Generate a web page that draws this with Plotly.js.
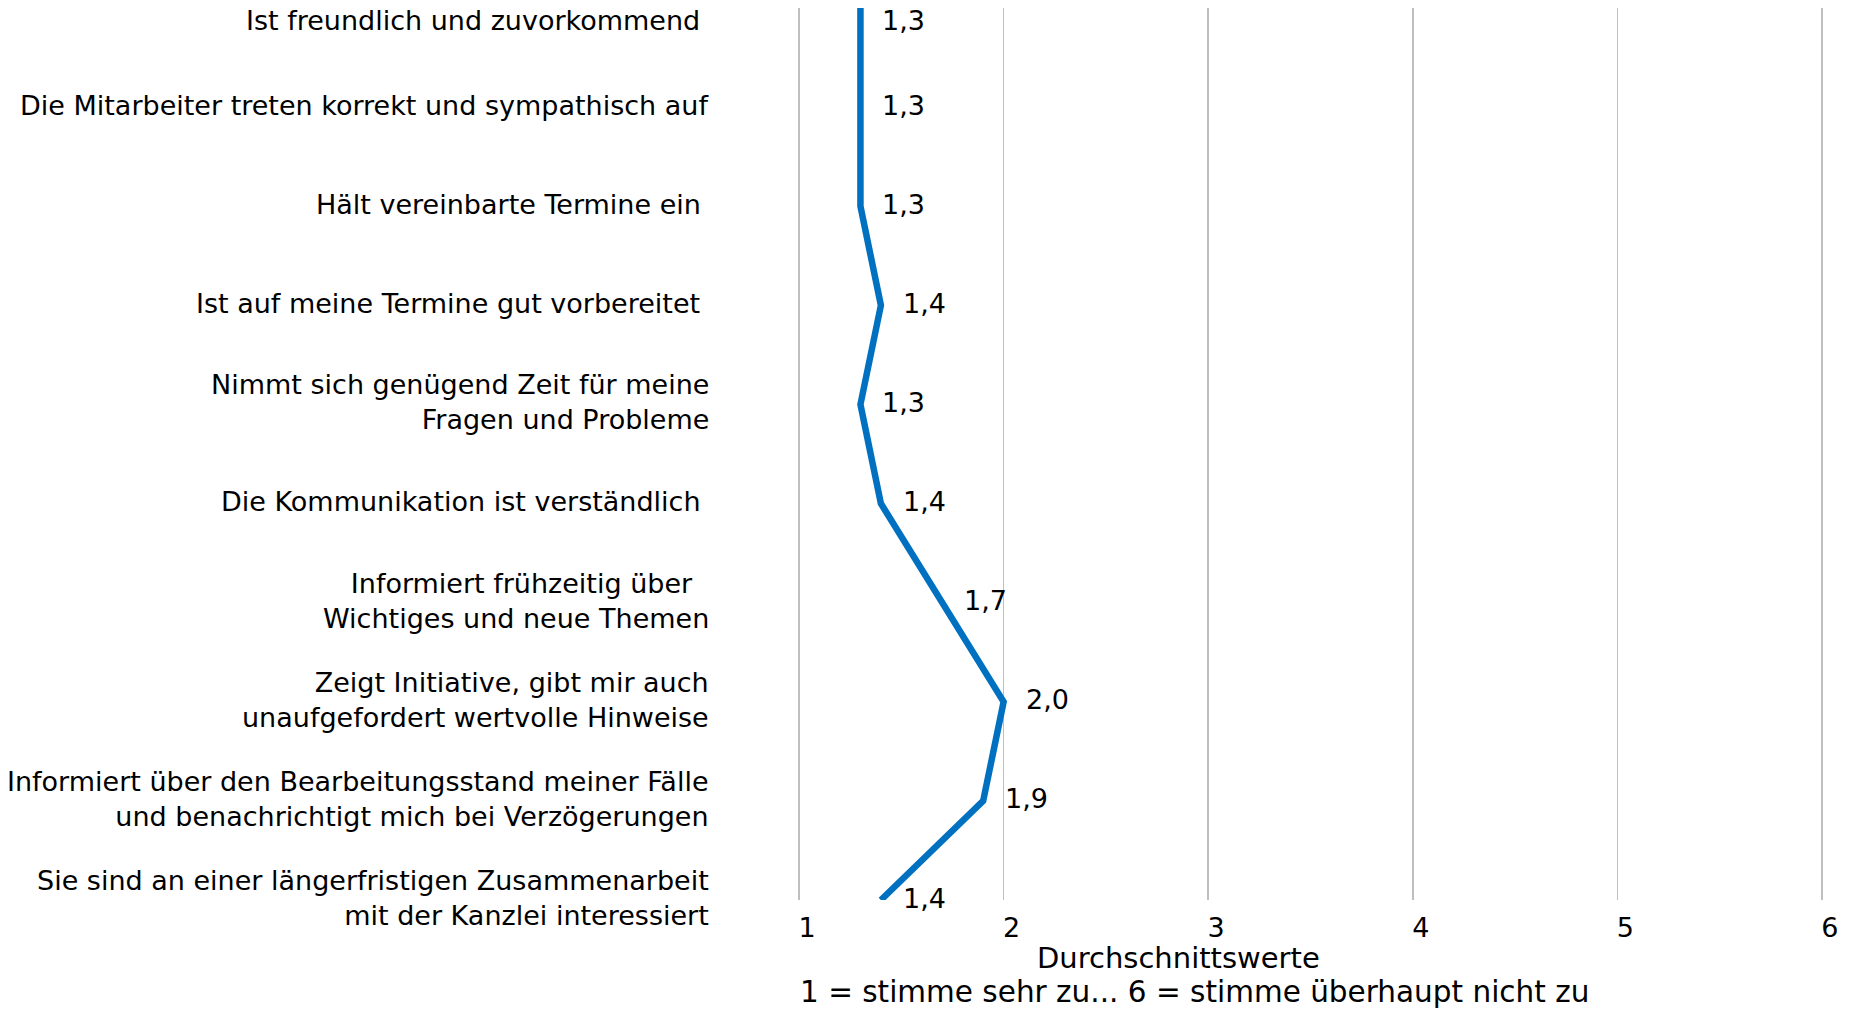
<!DOCTYPE html>
<html>
<head>
<meta charset="utf-8">
<script src="https://cdn.plot.ly/plotly-3.0.1.min.js"></script>
<style>
  html, body { margin: 0; padding: 0; background: #ffffff; }
  #chart { width: 1849px; height: 1012px; }
</style>
</head>
<body>
<div id="chart"></div>
<script>
// ---- Data ----
const categories = [
  "Ist freundlich und zuvorkommend\u00a0",
  "Die Mitarbeiter treten korrekt und sympathisch auf",
  "Hält vereinbarte Termine ein\u00a0",
  "Ist auf meine Termine gut vorbereitet\u00a0",
  "Nimmt sich genügend Zeit für meine<br>Fragen und Probleme",
  "Die Kommunikation ist verständlich\u00a0",
  "Informiert frühzeitig über\u00a0\u00a0<br>Wichtiges und neue Themen",
  "Zeigt Initiative, gibt mir auch<br>unaufgefordert wertvolle Hinweise",
  "Informiert über den Bearbeitungsstand meiner Fälle<br>und benachrichtigt mich bei Verzögerungen",
  "Sie sind an einer längerfristigen Zusammenarbeit<br>mit der Kanzlei interessiert"
];
const averages = [1.3, 1.3, 1.3, 1.4, 1.3, 1.4, 1.7, 2.0, 1.9, 1.4];
const xTicks = [1, 2, 3, 4, 5, 6];
const xAxisTitle = "Durchschnittswerte";
const scaleNote = "1 = stimme sehr zu... 6 = stimme überhaupt nicht zu";

// ---- Styling ----
const FONT = "DejaVu Sans, Verdana, sans-serif";
const FS = 27;
const BASE_NUDGE = 2;        // small optical centring of labels
const TOP_ROW_NUDGE = -12;   // first row's labels sit a bit lower to stay inside the chart
const fmt = v => v.toFixed(1).replace('.', ',');
const nudge = i => (i === 0 ? TOP_ROW_NUDGE : BASE_NUDGE);

const trace = {
  type: 'scatter',
  mode: 'lines',
  x: averages,
  y: categories,
  line: { color: '#0070C0', width: 6.5 },
  hoverinfo: 'x+y',
  showlegend: false
};

// category labels on the left, anchored to the y axis categories
const categoryLabels = categories.map((c, i) => ({
  text: c,
  xref: 'paper', yref: 'y',
  x: 0, y: i,
  xanchor: 'right', yanchor: 'middle',
  xshift: -85,
  yshift: nudge(i),
  align: 'right',
  showarrow: false,
  font: { family: FONT, size: FS, color: '#000000' }
}));

// data labels to the right of each point
const valueLabels = averages.map((v, i) => ({
  text: fmt(v),
  xref: 'x', yref: 'y',
  x: v, y: i,
  xanchor: 'left', yanchor: 'middle',
  xshift: 20,
  yshift: nudge(i),
  showarrow: false,
  font: { family: FONT, size: FS, color: '#000000' }
}));

const layout = {
  width: 1849,
  height: 1012,
  margin: { l: 796, r: 24, t: 8, b: 112 },
  paper_bgcolor: '#ffffff',
  plot_bgcolor: '#ffffff',
  font: { family: FONT, size: FS, color: '#000000' },
  xaxis: {
    range: [0.985, 6.015],
    tickvals: xTicks,
    ticktext: xTicks.map(String),
    showgrid: true,
    gridcolor: '#BFBFBF',
    gridwidth: 1.5,
    zeroline: false,
    showline: false,
    ticks: '',
    ticklabelstandoff: 9,
    ticklabelshift: 8,
    tickfont: { family: FONT, size: FS, color: '#000000' }
  },
  yaxis: {
    type: 'category',
    categoryarray: categories,
    range: [9, 0],
    showgrid: false,
    zeroline: false,
    showline: false,
    ticks: '',
    showticklabels: false
  },
  annotations: [
    ...categoryLabels,
    ...valueLabels,
    {
      text: xAxisTitle,
      xref: 'paper', yref: 'paper',
      x: 0.3722, y: -0.0655,
      xanchor: 'center', yanchor: 'middle',
      borderpad: 0,
      showarrow: false,
      font: { family: FONT, size: 29, color: '#000000' }
    },
    {
      text: scaleNote,
      xref: 'paper', yref: 'paper',
      x: 0.3868, y: -0.1031,
      xanchor: 'center', yanchor: 'middle',
      borderpad: 0,
      showarrow: false,
      font: { family: FONT, size: 29.5, color: '#000000' }
    }
  ]
};

Plotly.newPlot('chart', [trace], layout, { displayModeBar: false, staticPlot: true });
</script>
</body>
</html>
